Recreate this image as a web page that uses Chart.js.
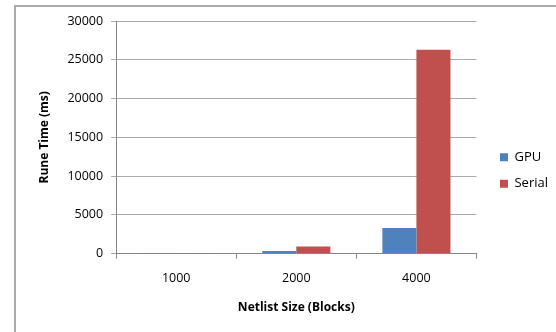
<!DOCTYPE html>
<html>
<head>
<meta charset="utf-8">
<script src="https://cdn.jsdelivr.net/npm/chart.js@4"></script>
<style>
  html, body { margin: 0; padding: 0; background: #fff; overflow: hidden; }
  #frame { position: absolute; left: 14px; top: 5px; width: 600px; height: 400px; border: 2px solid #ABABAB; box-sizing: border-box; }
  #box { position: absolute; left: 0; top: 0; width: 556px; height: 332px; }
</style>
</head>
<body>
<div id="frame"></div>
<div id="box"><canvas id="barChart" width="556" height="332"></canvas></div>
<script>
// chart data
const categories = ['1000', '2000', '4000'];
const gpuTimes = [15, 350, 3300];
const serialTimes = [40, 900, 26300];
const yTicks = [0, 5000, 10000, 15000, 20000, 25000, 30000];

const colors = {
    gpu: '#4F81BD',    // blue
    serial: '#C0504D', // red
    grid: '#ABABAB',
    axis: '#868686'
};

const fontFamily = "'Open Sans', 'Liberation Sans', sans-serif";

// nudge the legend a bit away from the plot, like the spreadsheet original
const legendShift = {
    id: 'legendShift',
    afterLayout(chart) {
        const lg = chart.legend;
        lg.left += 10;
        lg.right += 10;
        lg.top += 2.5;
        lg.bottom += 2.5;
    }
};

const ctx = document.getElementById('barChart').getContext('2d');
const barChart = new Chart(ctx, {
    type: 'bar',
    data: {
        labels: categories,
        datasets: [{
            label: 'GPU',
            data: gpuTimes,
            backgroundColor: colors.gpu,
            borderWidth: 0
        }, {
            label: 'Serial',
            data: serialTimes,
            backgroundColor: colors.serial,
            borderWidth: 0
        }]
    },
    options: {
        responsive: false,
        animation: false,
        layout: {
            padding: { left: 30, top: 21, right: 8, bottom: 17 }
        },
        datasets: {
            bar: { categoryPercentage: 0.567, barPercentage: 1.0 }
        },
        scales: {
            x: {
                grid: {
                    offset: true,
                    drawOnChartArea: false,
                    tickLength: 5,
                    // the last offset line would otherwise close the plot on the right
                    color: c => c.index === categories.length ? 'rgba(0,0,0,0)' : colors.axis
                },
                border: { color: colors.axis, width: 1 },
                ticks: {
                    color: '#000',
                    font: { family: fontFamily, size: 12.5 },
                    padding: 12
                },
                title: {
                    display: true,
                    text: 'Netlist Size (Blocks)',
                    color: '#000',
                    font: { family: fontFamily, size: 12, weight: 'bold' },
                    padding: { top: 3, bottom: 0 }
                }
            },
            y: {
                min: 0,
                max: 30000,
                afterBuildTicks: function (axis) {
                    axis.ticks = yTicks.map(v => ({ value: v }));
                },
                grid: {
                    color: colors.grid,
                    tickLength: 5
                },
                border: { color: colors.axis, width: 1 },
                ticks: {
                    color: '#000',
                    font: { family: fontFamily, size: 12.5 },
                    padding: 8,
                    callback: v => String(v)
                },
                title: {
                    display: true,
                    text: 'Rune Time (ms)',
                    color: '#000',
                    font: { family: fontFamily, size: 12, weight: 'bold' },
                    padding: { top: 7, bottom: 8 }
                }
            }
        },
        plugins: {
            legend: {
                position: 'right',
                labels: {
                    color: '#000',
                    font: { family: fontFamily, size: 13 },
                    boxWidth: 8,
                    boxHeight: 8,
                    padding: 13.5
                }
            },
            tooltip: { enabled: false }
        }
    },
    plugins: [legendShift]
});
</script>
</body>
</html>
